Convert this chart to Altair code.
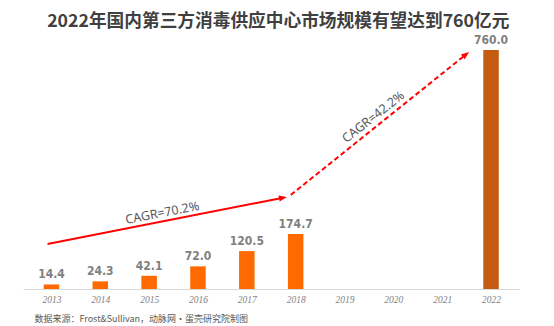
import altair as alt
import pandas as pd

# ---- data ----
years = [2013, 2014, 2015, 2016, 2017, 2018, 2019, 2020, 2021, 2022]
market = [14.4, 24.3, 42.1, 72.0, 120.5, 174.7, None, None, None, 760.0]

title_text = "2022年国内第三方消毒供应中心市场规模有望达到760亿元"
source_text = "数据来源：Frost&Sullivan，动脉网·蛋壳研究院制图"

# annotation arrows (in data units: year, value)
solid_x = [2012.92, 2017.72]
solid_y = [143.0, 289.6]
dash_x = [2017.90, 2021.47]
dash_y = [299.0, 743.7]
tip1_x, tip1_y = [2017.82], [292.5]
tip2_x, tip2_y = [2021.55], [753.6]

cagr1_text, cagr1_x, cagr1_y = ["CAGR=70.2%"], [2015.27], [241.7]
cagr2_text, cagr2_x, cagr2_y = ["CAGR=42.2%"], [2019.59], [547.0]

# ---- frames ----
bars_df = pd.DataFrame({"year": years, "value": market}).dropna()
solid_df = pd.DataFrame({"x": solid_x, "y": solid_y})
dash_df = pd.DataFrame({"x": dash_x, "y": dash_y})
tip1_df = pd.DataFrame({"x": tip1_x, "y": tip1_y})
tip2_df = pd.DataFrame({"x": tip2_x, "y": tip2_y})
c1_df = pd.DataFrame({"x": cagr1_x, "y": cagr1_y, "t": cagr1_text})
c2_df = pd.DataFrame({"x": cagr2_x, "y": cagr2_y, "t": cagr2_text})

W, H = 496.5, 251.6
xscale = alt.Scale(domain=[2012.52, 2022.48], nice=False, zero=False)
yscale = alt.Scale(domain=[0, 800], nice=False)

xaxis = alt.Axis(
    values=years, format="d", grid=False, ticks=False, labelPadding=5,
    labelFont="Liberation Serif", labelFontStyle="italic", labelFontSize=9.5,
    labelColor="#7f7f7f", labelFlush=False,
    domainColor="#d9d9d9", domainWidth=1,
    title=source_text, titleFont="Noto Sans CJK SC", titleFontSize=9,
    titleFontWeight="normal", titleColor="#595959", titleAnchor="start",
    titleAlign="left", titleBaseline="middle", titleX=11, titleY=29,
)


def X(field):
    return alt.X(field, scale=xscale, axis=xaxis)


def Y(field):
    return alt.Y(field, scale=yscale, axis=None)


bars = alt.Chart(bars_df).mark_bar(size=15.5).encode(
    x=X("year:Q"),
    y=Y("value:Q"),
    color=alt.condition(alt.datum.year == 2022, alt.value("#C55A11"), alt.value("#FF6A00")),
)

labels = alt.Chart(bars_df).mark_text(
    font="DejaVu Sans Condensed, Roboto, sans-serif", fontWeight="bold", fontSize=12,
    color="#7f7f7f", baseline="alphabetic", dy=-6,
).encode(
    x=X("year:Q"),
    y=Y("value:Q"),
    text=alt.Text("value:Q", format=".1f"),
)

arrow_head = "M0,0L0.75,1.9L-0.75,1.9Z"

solid = alt.Chart(solid_df).mark_line(color="#FF0000", strokeWidth=2).encode(
    x=X("x:Q"), y=Y("y:Q"),
)
dashed = alt.Chart(dash_df).mark_line(color="#FF0000", strokeWidth=2, strokeDash=[5, 3]).encode(
    x=X("x:Q"), y=Y("y:Q"),
)
tip1 = alt.Chart(tip1_df).mark_point(shape=arrow_head, filled=True, color="#FF0000",
                                     size=70, angle=79, opacity=1).encode(
    x=X("x:Q"), y=Y("y:Q"),
)
tip2 = alt.Chart(tip2_df).mark_point(shape=arrow_head, filled=True, color="#FF0000",
                                     size=70, angle=52, opacity=1).encode(
    x=X("x:Q"), y=Y("y:Q"),
)
c1 = alt.Chart(c1_df).mark_text(font="Noto Sans", fontSize=12.5, color="#595959",
                                angle=349, align="center", baseline="middle").encode(
    x=X("x:Q"), y=Y("y:Q"), text="t:N",
)
c2 = alt.Chart(c2_df).mark_text(font="Noto Sans", fontSize=12.5, color="#595959",
                                angle=322, align="center", baseline="middle").encode(
    x=X("x:Q"), y=Y("y:Q"), text="t:N",
)

chart = alt.layer(bars, labels, solid, dashed, tip1, tip2, c1, c2).properties(
    width=W, height=H,
    background="white",
    title=alt.TitleParams(
        text=title_text, font="Noto Sans CJK SC", fontSize=17.7, fontWeight="bold",
        color="#404040", anchor="middle", frame="group", dx=7, dy=20, offset=9,
        baseline="alphabetic",
    ),
    autosize=alt.AutoSizeParams(type="none"),
    padding={"left": 23, "top": 37.4, "right": 554 - 23 - W, "bottom": 326 - 37.4 - H},
).configure_view(stroke=None)

chart.save("out.html", embed_options={"renderer": "svg", "actions": False})
